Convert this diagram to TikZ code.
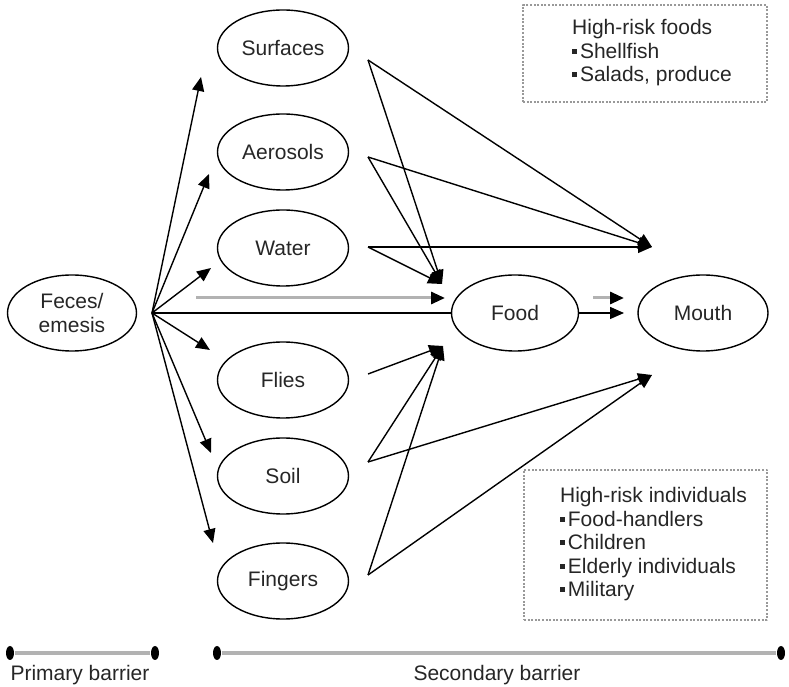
\documentclass[tikz,border=0pt]{standalone}
\usepackage{fontspec}
\setmainfont{Liberation Sans}
\usepackage{tikz}
\usetikzlibrary{arrows.meta,shapes}
\newcommand{\bul}{\rule[0.2em]{0.25em}{0.25em}\hspace{0.12em}}

\begin{document}
\begin{tikzpicture}[>={Triangle[length=14bp,width=12bp]},line join=bevel,line width=1.4bp,
  font=\fontsize{21bp}{23.5bp}\selectfont,text=black!85,
  oval/.style={draw,ellipse,minimum width=131bp,minimum height=76bp,inner sep=0pt},
  riskbox/.style={draw=gray!80,line width=1.2bp,dash pattern=on 2bp off 1.6bp,align=left,inner sep=0pt},
  faint/.style={draw=gray!60,line width=3bp,-{Triangle[length=14bp,width=12bp,color=black]}},
  bardot/.style={fill,ellipse,minimum width=8bp,minimum height=14bp,inner sep=0pt},
  barline/.style={draw=gray!60,line width=4bp}]
\useasboundingbox (0bp,0bp) rectangle (789bp,687bp);
%%
\node (feces) at (72bp,374bp) [oval,minimum width=129bp,align=center] {Feces/\\emesis};
  \node (surfaces) at (283bp,639bp) [oval] {Surfaces};
  \node (aerosols) at (283bp,535bp) [oval] {Aerosols};
  \node (water) at (283bp,439bp) [oval] {Water};
  \node (flies) at (283bp,307bp) [oval] {Flies};
  \node (soil) at (283bp,211bp) [oval] {Soil};
  \node (fingers) at (283bp,106bp) [oval] {Fingers};
  \node (food) at (515bp,374bp) [oval,minimum width=127bp] {Food};
  \node (mouth) at (703bp,374bp) [oval,minimum width=130bp] {Mouth};
  \node (foods) at (645bp,633.5bp) [riskbox,minimum width=244bp,minimum height=97bp]
    {\begin{tabular}{@{\hspace{14bp}}l@{}}\rule{0pt}{8bp}High-risk foods\\\bul Shellfish\\\bul Salads, produce\end{tabular}};
  \node (people) at (645.5bp,142bp) [riskbox,minimum width=243bp,minimum height=150bp]
    {\begin{tabular}{@{\hspace{16bp}}l@{}}High-risk individuals\\\bul Food-handlers\\\bul Children\\\bul Elderly individuals\\\bul Military\end{tabular}};
%
  \coordinate (fan) at (152bp,374bp);
  \coordinate (surfacesIn) at (201bp,610bp);
  \coordinate (aerosolsIn) at (209bp,513bp);
  \coordinate (waterIn) at (211bp,419bp);
  \coordinate (fliesIn) at (210bp,337bp);
  \coordinate (soilIn) at (211bp,234bp);
  \coordinate (fingersIn) at (213bp,144bp);
  \coordinate (surfacesOut) at (368bp,627bp);
  \coordinate (aerosolsOut) at (368bp,530bp);
  \coordinate (waterOut) at (368bp,440bp);
  \coordinate (fliesOut) at (368bp,313bp);
  \coordinate (soilOut) at (368bp,225bp);
  \coordinate (fingersOut) at (368bp,112bp);
  \coordinate (foodTop) at (442bp,403bp);
  \coordinate (foodBot) at (443bp,341bp);
  \coordinate (mouthTop) at (652bp,440bp);
  \coordinate (mouthBot) at (652bp,312bp);
  \coordinate (mouthIn) at (624bp,374bp);
  \coordinate (viaFrom) at (196bp,389bp);
  \coordinate (viaTo) at (445bp,389bp);
  \coordinate (passFrom) at (593bp,389bp);
  \coordinate (passTo) at (624bp,389bp);
%
  \draw [->] (fan) -- (surfacesIn);
  \draw [->] (fan) -- (aerosolsIn);
  \draw [->] (fan) -- (waterIn);
  \draw [->] (fan) -- (fliesIn);
  \draw [->] (fan) -- (soilIn);
  \draw [->] (fan) -- (fingersIn);
  \draw (fan) -- (food);
  \draw [faint] (viaFrom) -- (viaTo);
  \draw [->] (surfacesOut) -- (foodTop);
  \draw [->] (surfacesOut) -- (mouthTop);
  \draw [->] (aerosolsOut) -- (foodTop);
  \draw [->] (aerosolsOut) -- (mouthTop);
  \draw [->] (waterOut) -- (foodTop);
  \draw [->] (waterOut) -- (mouthTop);
  \draw [->] (fliesOut) -- (foodBot);
  \draw [->] (soilOut) -- (foodBot);
  \draw [->] (soilOut) -- (mouthBot);
  \draw [->] (fingersOut) -- (foodBot);
  \draw [->] (fingersOut) -- (mouthBot);
  \draw [->] (food) -- (mouthIn);
  \draw [faint] (passFrom) -- (passTo);
%
  \node (p1) at (10bp,34bp) [bardot] {};
  \node (p2) at (155bp,34bp) [bardot] {};
  \node (s1) at (217bp,34bp) [bardot] {};
  \node (s2) at (781bp,34bp) [bardot] {};
  \draw [barline] (p1) -- (p2);
  \draw [barline] (s1) -- (s2);
  \node (primary) at (80bp,12bp) {Primary barrier};
  \node (secondary) at (497bp,12bp) {Secondary barrier};
%
\end{tikzpicture}
\end{document}
